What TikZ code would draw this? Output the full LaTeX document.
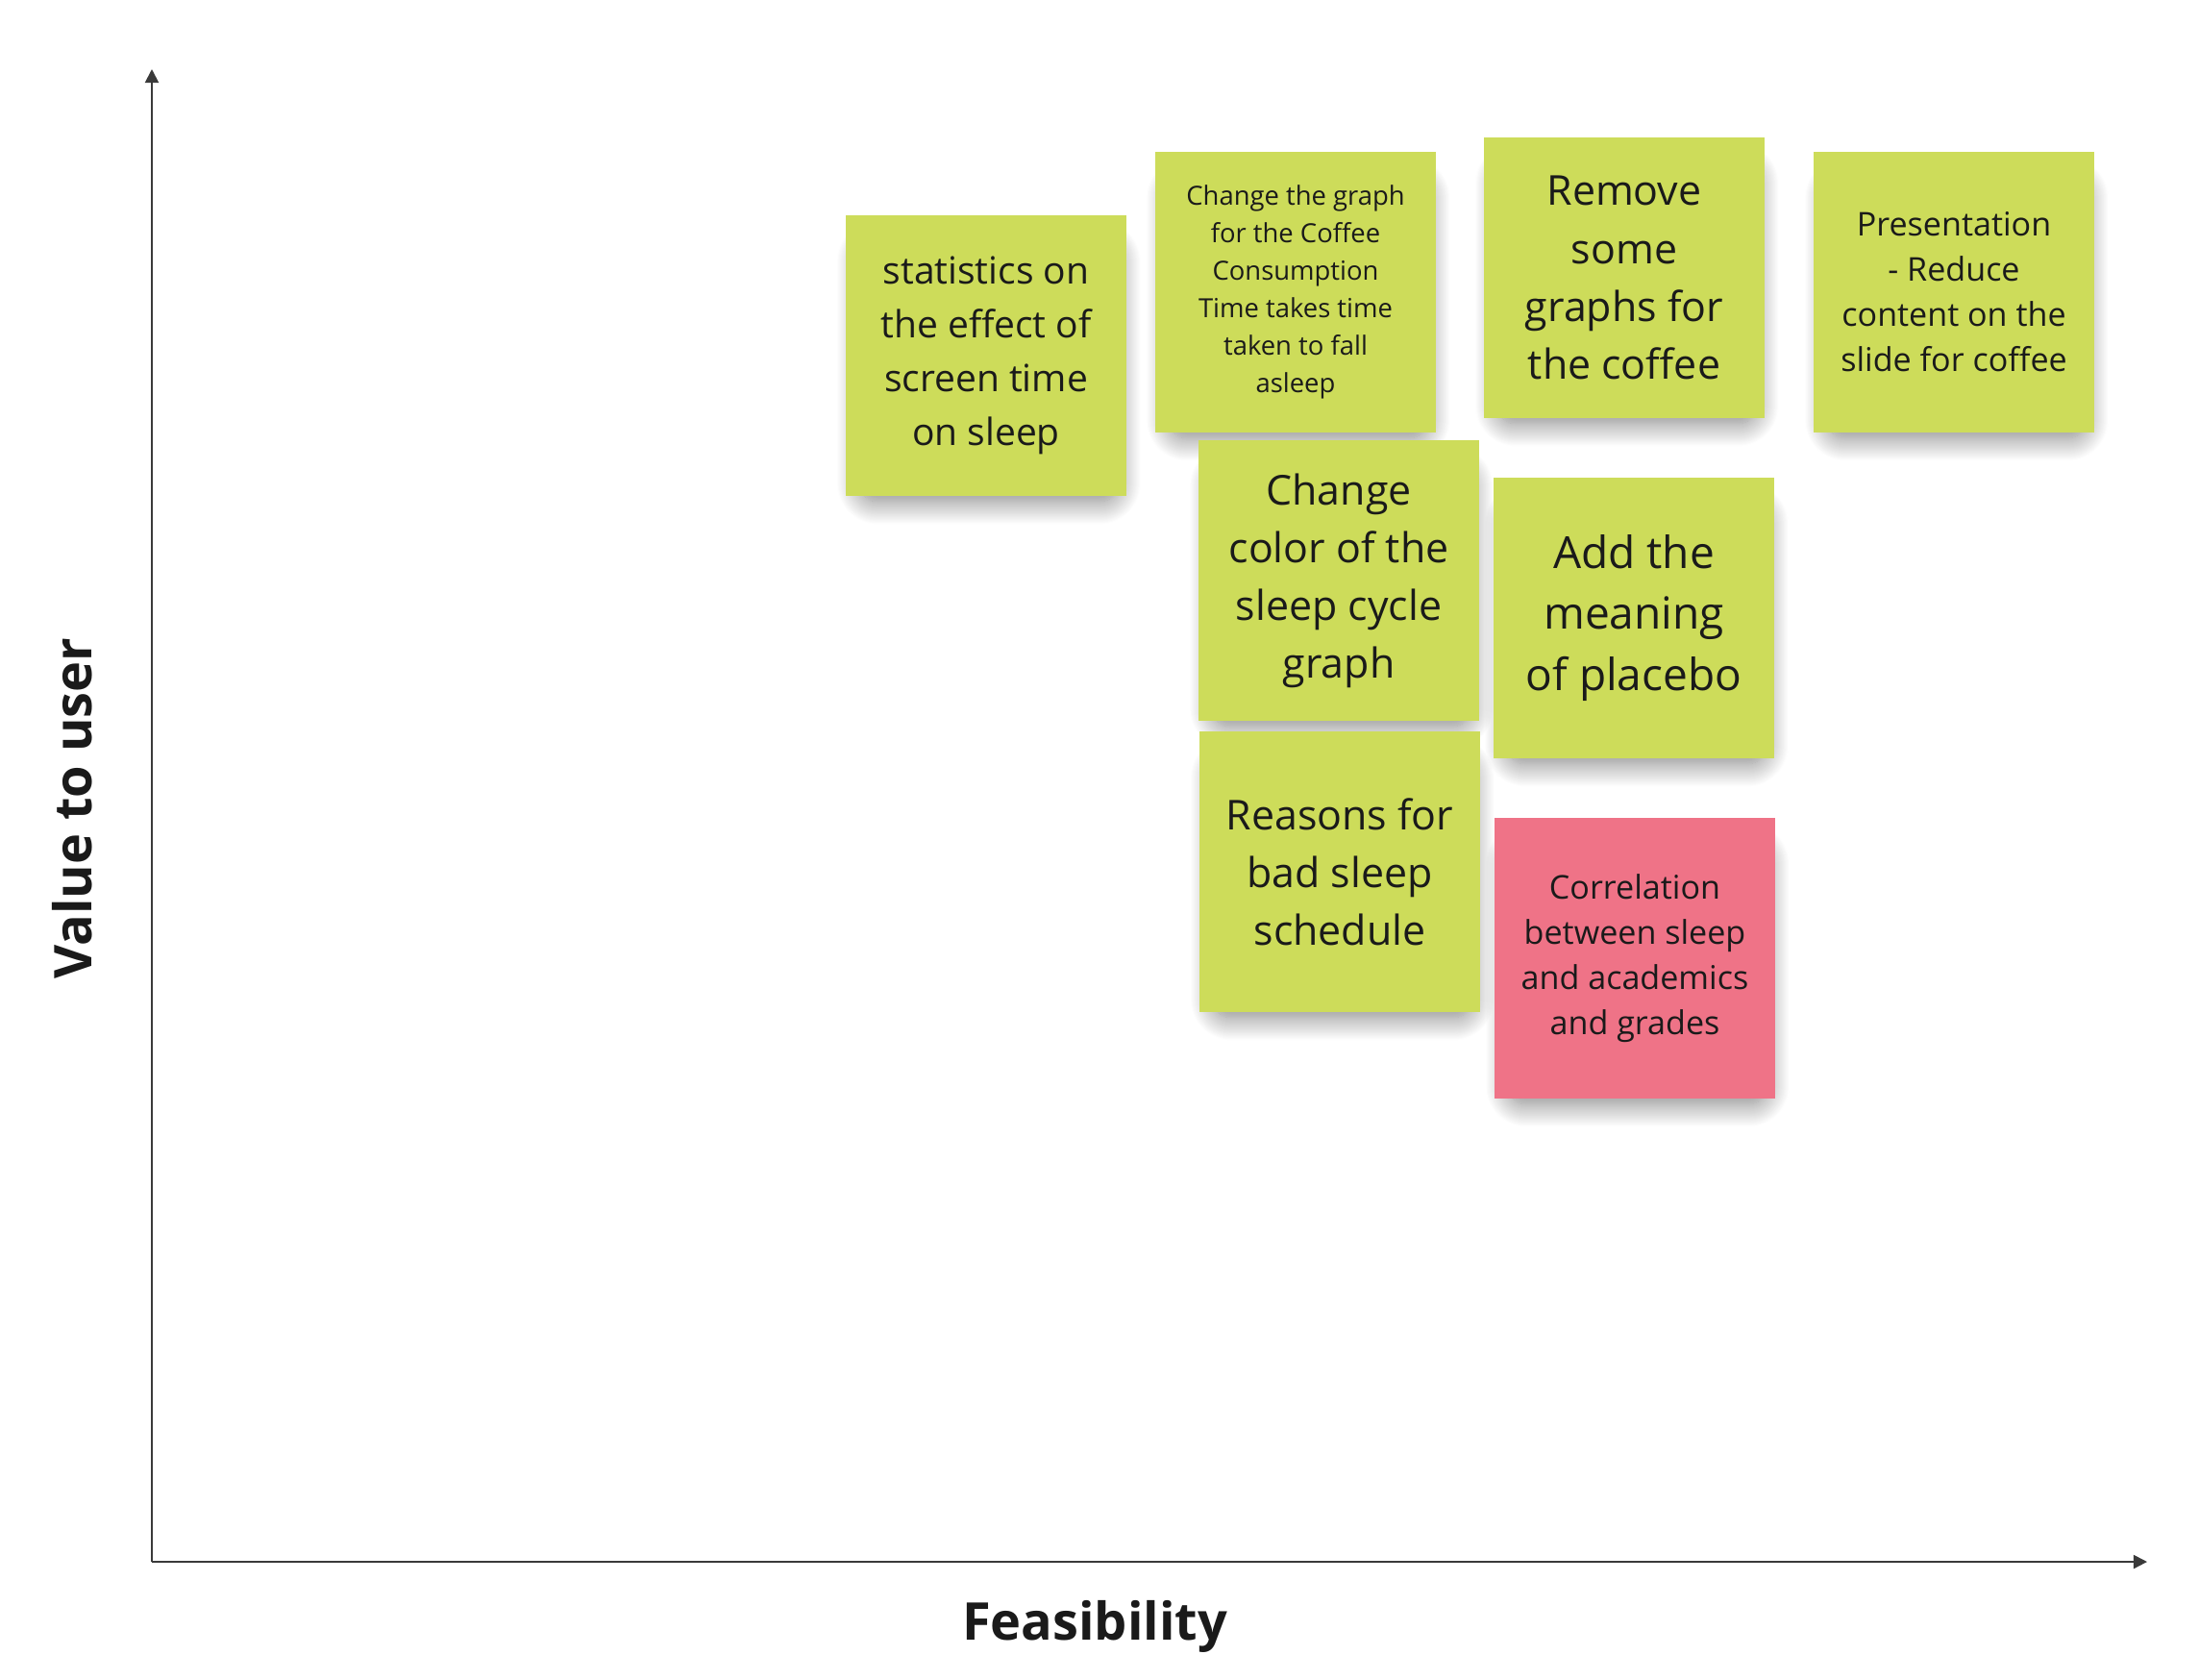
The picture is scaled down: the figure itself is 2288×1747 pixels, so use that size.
\documentclass[tikz,border=0pt]{standalone}
\usepackage{fontspec}
\setmainfont{Open Sans}
\usepackage{xcolor}
\definecolor{NOTEgreen}{HTML}{CDDC5A}
\definecolor{NOTEpink}{HTML}{EF7387}
\definecolor{NOTEtext}{HTML}{1A1A1A}
\definecolor{AXISgray}{HTML}{3A3A3A}
\usetikzlibrary{arrows.meta, positioning, shadows.blur}

\begin{document}
\begin{tikzpicture}[x=0.1mm, y=-0.1mm,
      note/.style={rectangle, fill=NOTEgreen, minimum width=2.92cm, minimum height=2.92cm,
                   align=center, inner sep=0pt, text=NOTEtext,
                   blur shadow={shadow xshift=0.3mm, shadow yshift=-1.9mm, shadow scale=0.92,
                                shadow blur radius=2.6mm, shadow blur steps=24,
                                shadow blur extra rounding=2mm, shadow opacity=50}},
      pinknote/.style={note, fill=NOTEpink},
      tiny/.style={font=\fontsize{7.8}{11.1}\selectfont},
      small/.style={font=\fontsize{9.7}{13.4}\selectfont},
      mid/.style={font=\fontsize{11.1}{15.9}\selectfont},
      big/.style={font=\fontsize{12.2}{17.1}\selectfont},
      huge/.style={font=\fontsize{13.1}{18.2}\selectfont},
      axis/.style={-{Triangle[length=4pt, width=4pt]}, AXISgray, line width=0.55pt},
      axislabel/.style={font=\bfseries\fontsize{15.4}{18}\selectfont, text=NOTEtext, anchor=base}]
      \useasboundingbox (0,0) rectangle (2288,1747);
      % Axes
      \coordinate (o) at (158,1625);
      \coordinate (ytop) at (158,72);
      \coordinate (xend) at (2234,1625);
      \draw[axis] (o) -- (ytop);
      \draw[axis] (o) -- (xend);
      \node[axislabel] (feas) at (1139,1706) {Feasibility};
      \node[axislabel, rotate=90] (value) at (95,841) {Value to user};
      % Top row of notes
      \node[note, mid] (stats) at (1026,370) {statistics on\\the effect of\\screen time\\on sleep};
      \node[note, tiny] (coffeegraph) at (1348,304) {Change the graph\\for the Coffee\\Consumption\\Time takes time\\taken to fall\\asleep};
      \node[note, big] (remove) at (1690,289) {Remove\\some\\graphs for\\the coffee};
      \node[note, small] (slide) at (2033,304) {Presentation\\- Reduce\\content on the\\slide for coffee};
      % Middle row
      \node[note, big] (colour) at (1393,604) {Change\\color of the\\sleep cycle\\graph};
      \node[note, huge] (placebo) at (1700,643) {Add the\\meaning\\of placebo};
      % Bottom row
      \node[note, big] (reasons) at (1394,907) {Reasons for\\bad sleep\\schedule};
      \node[pinknote, small] (grades) at (1701,997) {Correlation\\between sleep\\and academics\\and grades};
   \end{tikzpicture}
\end{document}
